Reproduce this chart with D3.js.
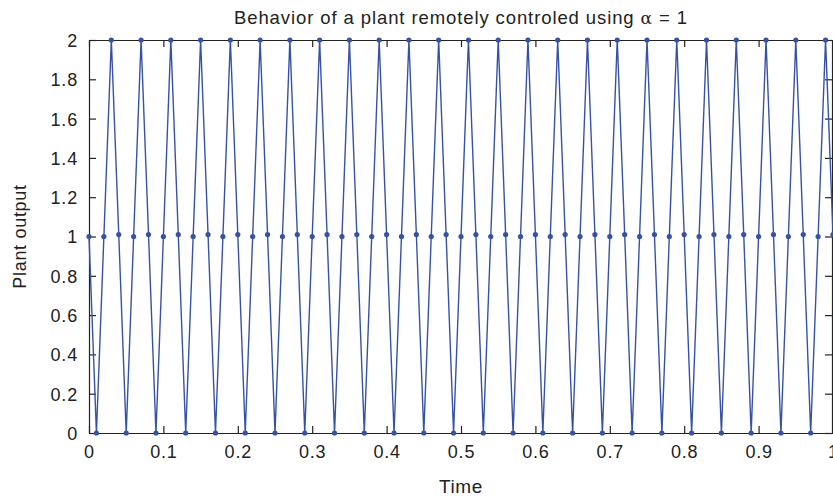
<!DOCTYPE html>
<html lang="en">
<head>
    <meta charset="UTF-8">
    <title>Plant output</title>
    <script src="https://cdn.jsdelivr.net/npm/d3@7"></script>
    <style>
        html, body {
            margin: 0;
            background: #fff;
        }
        text {
            font-family: "Liberation Sans", Arial, sans-serif;
            fill: #222;
        }
    </style>
</head>
<body>
<div class="chart"></div>

<script>

    // sample times and plant output
    var timeArray = [0.00, 0.01, 0.02, 0.03, 0.04, 0.05, 0.06, 0.07, 0.08, 0.09,
        0.10, 0.11, 0.12, 0.13, 0.14, 0.15, 0.16, 0.17, 0.18, 0.19,
        0.20, 0.21, 0.22, 0.23, 0.24, 0.25, 0.26, 0.27, 0.28, 0.29,
        0.30, 0.31, 0.32, 0.33, 0.34, 0.35, 0.36, 0.37, 0.38, 0.39,
        0.40, 0.41, 0.42, 0.43, 0.44, 0.45, 0.46, 0.47, 0.48, 0.49,
        0.50, 0.51, 0.52, 0.53, 0.54, 0.55, 0.56, 0.57, 0.58, 0.59,
        0.60, 0.61, 0.62, 0.63, 0.64, 0.65, 0.66, 0.67, 0.68, 0.69,
        0.70, 0.71, 0.72, 0.73, 0.74, 0.75, 0.76, 0.77, 0.78, 0.79,
        0.80, 0.81, 0.82, 0.83, 0.84, 0.85, 0.86, 0.87, 0.88, 0.89,
        0.90, 0.91, 0.92, 0.93, 0.94, 0.95, 0.96, 0.97, 0.98, 0.99, 1.00];

    var outputArray = [1,
        0, 1, 2, 1.01, 0, 1, 2, 1.01, 0, 1, 2, 1.01, 0, 1, 2, 1.01, 0, 1, 2, 1.01,
        0, 1, 2, 1.01, 0, 1, 2, 1.01, 0, 1, 2, 1.01, 0, 1, 2, 1.01, 0, 1, 2, 1.01,
        0, 1, 2, 1.01, 0, 1, 2, 1.01, 0, 1, 2, 1.01, 0, 1, 2, 1.01, 0, 1, 2, 1.01,
        0, 1, 2, 1.01, 0, 1, 2, 1.01, 0, 1, 2, 1.01, 0, 1, 2, 1.01, 0, 1, 2, 1.01,
        0, 1, 2, 1.01, 0, 1, 2, 1.01, 0, 1, 2, 1.01, 0, 1, 2, 1.01, 0, 1, 2, 1.01];

    var xTicks = [0, 0.1, 0.2, 0.3, 0.4, 0.5, 0.6, 0.7, 0.8, 0.9, 1];
    var yTicks = [0, 0.2, 0.4, 0.6, 0.8, 1, 1.2, 1.4, 1.6, 1.8, 2];

    var W = 833, H = 496;
    var margin = {left: 89, right: 0, top: 40, bottom: 63};
    var width = W - margin.left - margin.right;
    var height = H - margin.top - margin.bottom;
    var blue = "#3652a6";

    var x = d3.scaleLinear().domain([0, 1]).range([0, width]);
    var y = d3.scaleLinear().domain([0, 2]).range([height, 0]);

    var svg = d3.select('.chart').append('svg').attr('width', W).attr('height', H);
    var g = svg.append('g').attr('transform', 'translate(' + margin.left + ',' + margin.top + ')');

    function fmt(d) { return d3.format('')(+d.toFixed(1)); }

    // axes, ticks pointing inward, mirrored on top/right
    var bottomAxis = d3.axisBottom(x).tickValues(xTicks).tickSizeInner(-7).tickSizeOuter(0).tickPadding(12).tickFormat(fmt);
    var leftAxis = d3.axisLeft(y).tickValues(yTicks).tickSizeInner(-7).tickSizeOuter(0).tickPadding(11).tickFormat(fmt);
    var topAxis = d3.axisTop(x).tickValues(xTicks).tickSizeInner(-7).tickSizeOuter(0).tickFormat('');
    var rightAxis = d3.axisRight(y).tickValues(yTicks).tickSizeInner(-7).tickSizeOuter(0).tickFormat('');

    g.append('g').attr('class', 'axis x').attr('transform', 'translate(0,' + height + ')').call(bottomAxis);
    g.append('g').attr('class', 'axis y').call(leftAxis);
    g.append('g').attr('class', 'axis').call(topAxis);
    g.append('g').attr('class', 'axis').attr('transform', 'translate(' + (width - 1) + ',0)').call(rightAxis);

    g.selectAll('.axis path, .axis line').attr('stroke', '#222').attr('stroke-width', 1.2);
    g.selectAll('.axis text').style('font-size', '18px').style('letter-spacing', '0.8px').attr('fill', '#222');
    g.selectAll('.axis.y text').attr('dy', '0.36em');

    // line + markers
    var line = d3.line()
        .x(function (d, i) { return x(timeArray[i]); })
        .y(function (d) { return y(d); });

    g.append('path')
        .attr('d', line(outputArray))
        .attr('fill', 'none')
        .attr('stroke', blue)
        .attr('stroke-width', 1.4)
        .attr('stroke-linejoin', 'miter');

    g.selectAll('circle.pt')
        .data(outputArray)
        .enter().append('circle')
        .attr('class', 'pt')
        .attr('cx', function (d, i) { return x(timeArray[i]); })
        .attr('cy', function (d) { return y(d); })
        .attr('r', 2.6)
        .attr('fill', blue);

    // labels
    var title = svg.append('text')
        .attr('x', margin.left + width / 2)
        .attr('y', 24)
        .attr('text-anchor', 'middle')
        .style('font-size', '18.5px')
        .style('letter-spacing', '0.9px');
    title.append('tspan').text('Behavior of a plant remotely controled using ');
    title.append('tspan').style('font-family', '"DejaVu Serif", serif').style('font-size', '17px').text('α');
    title.append('tspan').text(' = 1');

    svg.append('text')
        .attr('x', margin.left + width / 2)
        .attr('y', 493)
        .attr('text-anchor', 'middle')
        .style('font-size', '19px')
        .style('letter-spacing', '0.6px')
        .text('Time');

    svg.append('text')
        .attr('transform', 'translate(26,' + (margin.top + height / 2) + ') rotate(-90)')
        .attr('text-anchor', 'middle')
        .style('font-size', '18px')
        .style('letter-spacing', '0.7px')
        .text('Plant output');

</script>
</body>
</html>
